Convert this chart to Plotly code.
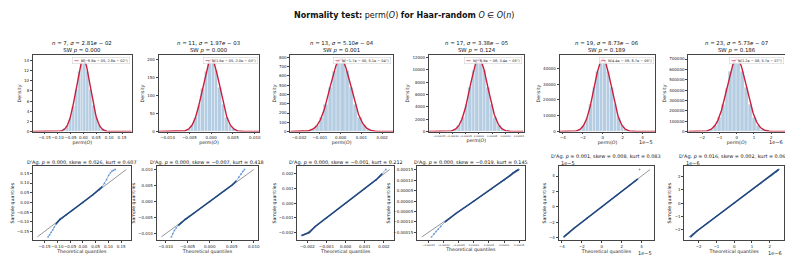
import numpy as np
import plotly.graph_objects as go

FONT = "DejaVu Sans"
W, H = 793, 256

# ---------------- data ----------------
n_vals = [7, 11, 13, 17, 19, 23]
sigma_text = ["2.81", "1.97", "5.10", "3.38", "8.73", "5.73"]
sigma_exp = ["02", "03", "04", "05", "06", "07"]
sigma_vals = [2.81e-2, 1.97e-3, 5.10e-4, 3.38e-5, 8.73e-6, 5.73e-7]
sw_p = ["0.000", "0.000", "0.001", "0.124", "0.189", "0.186"]

fit_mu = [-8.8e-5, 1.6e-5, -1.7e-6, -8.9e-8, 4.4e-8, 1.2e-8]
fit_sigma = [2.8e-2, 2.0e-3, 5.1e-4, 3.4e-5, 8.7e-6, 5.7e-7]
fit_labels = ["N(−8.8e − 05, 2.8e − 02²)", "N(1.6e − 05, 2.0e − 03²)",
              "N(−1.7e − 06, 5.1e − 04²)", "N(−8.9e − 08, 3.4e − 05²)",
              "N(4.4e − 08, 8.7e − 06²)", "N(1.2e − 08, 5.7e − 07²)"]

dag_p = ["0.000", "0.000", "0.000", "0.000", "0.001", "0.016"]
skew = ["0.026", "−0.007", "−0.001", "−0.019", "0.008", "0.002"]
kurt = ["0.607", "0.418", "0.212", "0.145", "0.083", "0.065"]

# histogram bin edges in units of sigma, and bin densities
hist_edges_sigma = [-4.0, -3.6, -3.2, -2.8, -2.4, -2.0, -1.6, -1.2, -0.8, -0.4, 0.0,
                    0.4, 0.8, 1.2, 1.6, 2.0, 2.4, 2.8, 3.2, 3.6, 4.0]
hist_density = [
    [0.04, 0.09, 0.24, 0.56, 1.22, 2.68, 5.05, 8.35, 11.85, 14.25, 14.30, 11.90, 8.40, 5.10, 2.72, 1.20, 0.55, 0.25, 0.10, 0.05],
    [0.6, 1.3, 3.4, 7.6, 17.2, 39.0, 73.5, 120.5, 168.0, 201.0, 200.5, 168.5, 121.5, 74.5, 38.0, 17.5, 7.4, 3.2, 1.4, 0.6],
    [0.5, 2.3, 8.8, 27.5, 70.5, 154.0, 292.0, 476.0, 652.0, 770.0, 768.0, 655.0, 474.0, 294.0, 156.0, 69.0, 26.0, 9.5, 2.6, 0.6],
    [9, 36, 128, 402, 1040, 2330, 4400, 7180, 9840, 11580, 11540, 9880, 7150, 4440, 2350, 1060, 395, 132, 38, 8],
    [30, 138, 505, 1560, 4060, 9030, 17180, 27700, 38200, 44900, 44700, 38100, 27800, 17100, 9080, 4050, 1540, 495, 142, 32],
    [480, 2150, 7700, 23800, 61800, 137500, 261500, 421000, 581500, 683000, 681000, 580000, 423000, 260500, 138500, 62500, 23500, 7600, 2200, 500],
]

# Q-Q points (theoretical, sample)
qq_theo = [
    [-0.136, -0.130, -0.124, -0.118, -0.112, -0.105, -0.098, -0.090, -0.080, -0.065, -0.040, 0.0,
     0.040, 0.065, 0.075, 0.085, 0.093, 0.101, 0.108, 0.114, 0.120, 0.127],
    [-0.0087, -0.0084, -0.0080, -0.0076, -0.0071, -0.0065, -0.0055, -0.0035, 0.0,
     0.0035, 0.0052, 0.0060, 0.0066, 0.0071, 0.0075, 0.0079],
    [-0.0023, -0.0021, -0.0019, -0.0016, -0.0010, 0.0, 0.0010, 0.0016, 0.0019, 0.0021],
    [-0.000140, -0.000132, -0.000125, -0.000118, -0.000110, -0.000095, -0.00006, 0.0,
     0.00006, 0.000100, 0.000118, 0.000130, 0.000140, 0.000148],
    [-3.8e-5, -3.6e-5, -3.3e-5, -2.8e-5, -1.5e-5, 0.0, 1.5e-5, 2.8e-5, 3.3e-5, 3.6e-5, None, 3.8e-5],
    [-2.45e-6, -2.3e-6, -2.1e-6, -1.5e-6, 0.0, 1.5e-6, 2.1e-6, 2.35e-6, 2.5e-6],
]
qq_sample = [
    [-0.178, -0.168, -0.155, -0.142, -0.128, -0.112, -0.099, -0.088, -0.079, -0.065, -0.040, 0.0,
     0.040, 0.066, 0.080, 0.098, 0.118, 0.140, 0.153, 0.162, 0.166, 0.170],
    [-0.0110, -0.0100, -0.0090, -0.0082, -0.0074, -0.0066, -0.0055, -0.0035, 0.0,
     0.0035, 0.0053, 0.0064, 0.0076, 0.0086, 0.0094, 0.0100],
    [-0.0022, -0.0021, -0.0020, -0.0016, -0.0010, 0.0, 0.0010, 0.0016, 0.0020, 0.0023],
    [-0.000172, -0.000158, -0.000146, -0.000135, -0.000122, -0.000100, -0.00006, 0.0,
     0.00006, 0.000100, 0.000121, 0.000136, 0.000146, 0.000152],
    [-3.9e-5, -3.65e-5, -3.35e-5, -2.8e-5, -1.5e-5, 0.0, 1.5e-5, 2.8e-5, 3.3e-5, 3.6e-5, None, 4.85e-5],
    [-2.55e-6, -2.35e-6, -2.12e-6, -1.5e-6, 0.0, 1.5e-6, 2.1e-6, 2.37e-6, 2.55e-6],
]

# tick labels
x_tick_vals = [
    [-0.15, -0.10, -0.05, 0.0, 0.05, 0.10, 0.15],
    [-0.010, -0.005, 0.0, 0.005, 0.010],
    [-0.002, -0.001, 0.0, 0.001, 0.002],
    [-0.00015, -0.00010, -0.00005, 0.0, 0.00005, 0.00010, 0.00015],
    [-4e-5, -2e-5, 0.0, 2e-5, 4e-5],
    [-2e-6, -1e-6, 0.0, 1e-6, 2e-6],
]
x_tick_text = [
    ["−0.15", "−0.10", "−0.05", "0.00", "0.05", "0.10", "0.15"],
    ["−0.010", "−0.005", "0.000", "0.005", "0.010"],
    ["−0.002", "−0.001", "0.000", "0.001", "0.002"],
    ["−0.00015", "−0.00010", "−0.00005", "0.00000", "0.00005", "0.00010", "0.00015"],
    ["−4", "−2", "0", "2", "4"],
    ["−2", "−1", "0", "1", "2"],
]
offset_text = [None, None, None, None, "1e−5", "1e−6"]
density_ticks = [
    [0, 2, 4, 6, 8, 10, 12, 14],
    [0, 50, 100, 150, 200],
    [0, 100, 200, 300, 400, 500, 600, 700, 800],
    [0, 2000, 4000, 6000, 8000, 10000, 12000],
    [0, 10000, 20000, 30000, 40000],
    [0, 100000, 200000, 300000, 400000, 500000, 600000, 700000],
]

# ---------------- layout geometry (pixels) ----------------
row1_x = [(25, 124), (151, 252), (283, 386), (422, 517), (553, 649), (682, 779)]
row2_x = [(25, 123), (149, 251), (290, 387), (410, 518), (552, 648), (678, 778)]
row1_y = (47, 124)
row2_y = (159, 234)

HIST_COLOR = "#b5cde2"
RED = "#c8203c"
QQ_BODY = "#22487f"
QQ_TAIL = "rgba(74,134,205,0.75)"
FRAME = "#444444"

TICK_FS = 4.0
LABEL_FS = 4.7
TITLE_FS = 5.4
ROW2_TITLE_FS = 4.9
OFFSET_FS = 5.0


def xd(a, b):
    return [a / W, b / W]


def yd(top, bot):
    return [1 - bot / H, 1 - top / H]


def ax_ref(letter, k):
    return letter if k == 1 else f"{letter}{k}"


def ax_key(letter, k):
    return f"{letter}axis" if k == 1 else f"{letter}axis{k}"


fig = go.Figure()
layout = {}
annotations = []


def axis_common(tick_fs=TICK_FS):
    return dict(showline=True, mirror=True, linecolor=FRAME, linewidth=0.9,
                ticks="outside", ticklen=2, tickwidth=0.6, tickcolor=FRAME,
                showgrid=False, zeroline=False, tickangle=0,
                tickfont=dict(family=FONT, size=tick_fs, color="#222"))


def pad_range(vals):
    v = [x for x in vals if x is not None]
    lo, hi = min(v), max(v)
    span = hi - lo
    return [lo - 0.05 * span, hi + 0.05 * span]


for i in range(6):
    # smaller x tick font where the labels are long (panel with 1e-4 scale)
    x_fs = 2.5 if len(x_tick_text[i][0]) > 6 else TICK_FS

    # -------- histogram panel --------
    k = i + 1
    xa, ya = ax_ref("x", k), ax_ref("y", k)
    s = sigma_vals[i]
    edges = np.array(hist_edges_sigma) * s
    centers = (edges[:-1] + edges[1:]) / 2
    widths = np.diff(edges)
    fig.add_trace(go.Bar(x=centers, y=hist_density[i], width=widths, xaxis=xa, yaxis=ya,
                         marker=dict(color=HIST_COLOR, line=dict(color="white", width=0.3)),
                         showlegend=False, hoverinfo="skip"))
    xr = pad_range(qq_sample[i])
    xs = np.linspace(xr[0], xr[1], 400)
    pdf = np.exp(-0.5 * ((xs - fit_mu[i]) / fit_sigma[i]) ** 2) / (fit_sigma[i] * np.sqrt(2 * np.pi))
    fig.add_trace(go.Scatter(x=xs, y=pdf, mode="lines", xaxis=xa, yaxis=ya,
                             line=dict(color=RED, width=1.4), showlegend=False, hoverinfo="skip"))
    ymax = 1.05 * max(max(hist_density[i]), pdf.max())

    xa_d = axis_common(x_fs)
    xa_d.update(domain=xd(*row1_x[i]), anchor=ya, range=xr,
                tickmode="array", tickvals=x_tick_vals[i], ticktext=x_tick_text[i],
                title=dict(text="perm(<i>O</i>)", font=dict(family=FONT, size=LABEL_FS, color="#222"), standoff=1))
    ya_d = axis_common()
    ya_d.update(domain=yd(*row1_y), anchor=xa, range=[0, ymax],
                tickmode="array", tickvals=density_ticks[i], ticktext=[str(t) for t in density_ticks[i]],
                title=dict(text="Density", font=dict(family=FONT, size=LABEL_FS, color="#222"), standoff=2))
    layout[ax_key("x", k)] = xa_d
    layout[ax_key("y", k)] = ya_d

    cx = (row1_x[i][0] + row1_x[i][1]) / 2 / W
    annotations.append(dict(
        text=(f"<i>n</i> = {n_vals[i]}, <i>σ</i> = {sigma_text[i]}<i>e</i> − {sigma_exp[i]}"
              f"<br>SW <i>p</i> = {sw_p[i]}"),
        x=cx, y=1 - 38.5 / H, xref="paper", yref="paper", xanchor="center", yanchor="middle",
        showarrow=False, font=dict(family=FONT, size=TITLE_FS, color="#111")))
    annotations.append(dict(
        text=f'<span style="color:{RED}">━━</span>  {fit_labels[i]}',
        x=0.985, y=0.975, xref=f"{xa} domain", yref=f"{ya} domain", xanchor="right", yanchor="top",
        showarrow=False, bgcolor="rgba(255,255,255,0.85)", bordercolor="#cccccc", borderwidth=0.5,
        borderpad=1, font=dict(family=FONT, size=3.5, color="#222")))
    if offset_text[i]:
        annotations.append(dict(text=offset_text[i], x=row1_x[i][1] / W, y=1 - 135 / H,
                                xref="paper", yref="paper", xanchor="right", yanchor="middle",
                                showarrow=False, font=dict(family=FONT, size=OFFSET_FS, color="#222")))

    # -------- Q-Q panel --------
    k2 = i + 7
    xa2, ya2 = ax_ref("x", k2), ax_ref("y", k2)
    samp = [v for v in qq_sample[i] if v is not None]
    lo, hi = min(samp), max(samp)
    rr = pad_range(qq_sample[i] + qq_theo[i])
    span = rr[1] - rr[0]
    fig.add_trace(go.Scatter(x=[lo, hi], y=[lo, hi], mode="lines", xaxis=xa2, yaxis=ya2,
                             line=dict(color="#7a7a7a", width=0.8), showlegend=False, hoverinfo="skip"))
    # all points: thin light tail line + dots
    fig.add_trace(go.Scatter(x=qq_theo[i], y=qq_sample[i], mode="lines+markers", xaxis=xa2, yaxis=ya2,
                             line=dict(color=QQ_TAIL, width=0.8),
                             marker=dict(color=QQ_TAIL, size=1.8, line=dict(width=0)),
                             connectgaps=False, showlegend=False, hoverinfo="skip"))
    # dense body: points lying close to the reference line
    bx = [t if (t is not None and abs(s_ - t) <= 0.02 * span) else None
          for t, s_ in zip(qq_theo[i], [v if v is not None else 1e9 for v in qq_sample[i]])]
    by = [s_ if t is not None else None for t, s_ in zip(bx, qq_sample[i])]
    fig.add_trace(go.Scatter(x=bx, y=by, mode="lines", xaxis=xa2, yaxis=ya2,
                             line=dict(color=QQ_BODY, width=1.6),
                             connectgaps=False, showlegend=False, hoverinfo="skip"))

    xa_d = axis_common(x_fs)
    xa_d.update(domain=xd(*row2_x[i]), anchor=ya2, range=rr,
                tickmode="array", tickvals=x_tick_vals[i], ticktext=x_tick_text[i],
                title=dict(text="Theoretical quantiles", font=dict(family=FONT, size=LABEL_FS, color="#222"), standoff=0))
    ya_d = axis_common()
    ya_d.update(domain=yd(*row2_y), anchor=xa2, range=rr,
                tickmode="array", tickvals=x_tick_vals[i], ticktext=x_tick_text[i],
                title=dict(text="Sample quantiles", font=dict(family=FONT, size=LABEL_FS, color="#222"), standoff=2))
    layout[ax_key("x", k2)] = xa_d
    layout[ax_key("y", k2)] = ya_d

    cx2 = (row2_x[i][0] + row2_x[i][1]) / 2 / W
    ty = 149 if offset_text[i] else 155
    annotations.append(dict(
        text=f"D'Ag. <i>p</i> = {dag_p[i]}, skew = {skew[i]}, kurt = {kurt[i]}",
        x=cx2, y=1 - ty / H, xref="paper", yref="paper", xanchor="center", yanchor="middle",
        showarrow=False, font=dict(family=FONT, size=ROW2_TITLE_FS, color="#111")))
    if offset_text[i]:
        annotations.append(dict(text=offset_text[i], x=row2_x[i][0] / W, y=1 - 156 / H,
                                xref="paper", yref="paper", xanchor="left", yanchor="middle",
                                showarrow=False, font=dict(family=FONT, size=OFFSET_FS, color="#222")))
        annotations.append(dict(text=offset_text[i], x=row2_x[i][1] / W, y=1 - 246.5 / H,
                                xref="paper", yref="paper", xanchor="right", yanchor="middle",
                                showarrow=False, font=dict(family=FONT, size=OFFSET_FS, color="#222")))

annotations.append(dict(
    text="<b>Normality test:</b> perm(<i>O</i>) <b>for Haar-random</b> <i>O</i> ∈ <i>O</i>(<i>n</i>)",
    x=0.5, y=1 - 7 / H, xref="paper", yref="paper", xanchor="center", yanchor="middle",
    showarrow=False, font=dict(family=FONT, size=8, color="#111")))

fig.update_layout(width=W, height=H, margin=dict(l=0, r=0, t=0, b=0),
                  paper_bgcolor="white", plot_bgcolor="white", bargap=0,
                  annotations=annotations, **layout)

fig.write_html("out.html")
